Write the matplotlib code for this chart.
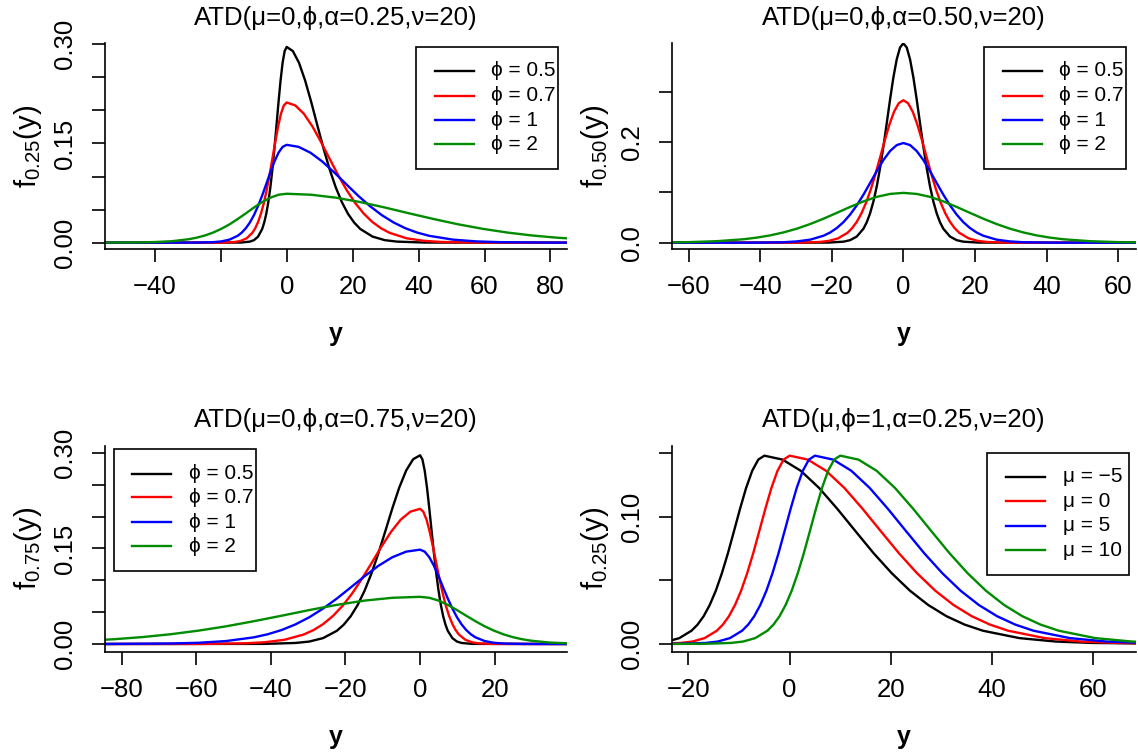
import matplotlib
matplotlib.use('Agg')
import matplotlib.pyplot as plt
from matplotlib.lines import Line2D
from matplotlib.patches import Rectangle

plt.rcParams['font.family'] = ['Liberation Sans', 'DejaVu Sans']
plt.rcParams['axes.unicode_minus'] = True

# ---------------- values ----------------
# panel 1: ATD(mu=0, phi, alpha=0.25, nu=20)
p1_x_05 = [-55, -13.95, -11.16, -9.92, -8.68, -7.44, -6.82, -6.2, -5.58, -4.96, -4.34, -3.72, -3.1, -2.48, -1.86, -1.24, -0.62, 0,
           1.86, 3.72, 5.58, 7.44, 9.3, 11.16, 13.02, 14.88, 16.74, 18.6, 20.46, 22.32, 26.04, 29.76, 33.48, 41.85, 85]
p1_y_05 = [0, 0.0002, 0.0016, 0.0038, 0.0092, 0.0207, 0.0304, 0.0436, 0.0612, 0.0836, 0.1109, 0.1426, 0.1773, 0.2127, 0.2454, 0.2722, 0.2898, 0.296,
           0.2898, 0.2722, 0.2454, 0.2127, 0.1773, 0.1426, 0.1109, 0.0836, 0.0612, 0.0436, 0.0304, 0.0207, 0.0092, 0.0038, 0.0016, 0.0002, 0]
p1_x_07 = [-55, -19.53, -15.62, -13.89, -12.15, -10.42, -9.55, -8.68, -7.81, -6.94, -6.08, -5.21, -4.34, -3.47, -2.6, -1.74, -0.87, 0,
           2.6, 5.2, 7.8, 10.4, 13.0, 15.6, 18.2, 20.8, 23.4, 26.0, 28.6, 31.2, 36.4, 41.6, 46.8, 58.5, 85]
p1_y_07 = [0, 0.0001, 0.0011, 0.0028, 0.0066, 0.0149, 0.0218, 0.0312, 0.0438, 0.0598, 0.0794, 0.1022, 0.1270, 0.1523, 0.1758, 0.1950, 0.2076, 0.212,
           0.2076, 0.1950, 0.1758, 0.1523, 0.1270, 0.1022, 0.0794, 0.0598, 0.0438, 0.0312, 0.0218, 0.0149, 0.0066, 0.0028, 0.0011, 0.0001, 0]
p1_x_1 = [-55, -27.9, -22.32, -19.84, -17.36, -14.88, -13.64, -12.4, -11.16, -9.92, -8.68, -7.44, -6.2, -4.96, -3.72, -2.48, -1.24, 0,
          3.6, 7.2, 10.8, 14.4, 18.0, 21.6, 25.2, 28.8, 32.4, 36.0, 39.6, 43.2, 50.4, 57.6, 64.8, 81.0, 85]
p1_y_1 = [0, 0.0001, 0.0008, 0.0019, 0.0046, 0.0104, 0.0152, 0.0218, 0.0306, 0.0418, 0.0555, 0.0713, 0.0887, 0.1063, 0.1227, 0.1361, 0.1449, 0.148,
          0.1449, 0.1361, 0.1227, 0.1063, 0.0887, 0.0713, 0.0555, 0.0418, 0.0306, 0.0218, 0.0152, 0.0104, 0.0046, 0.0019, 0.0008, 0.0001, 0.0001]
p1_x_2 = [-55.8, -44.64, -39.68, -34.72, -29.76, -27.28, -24.8, -22.32, -19.84, -17.36, -14.88, -12.4, -9.92, -7.44, -4.96, -2.48, 0,
          7.44, 14.88, 22.32, 29.76, 37.2, 44.64, 52.08, 59.52, 66.96, 74.4, 81.84, 89.28]
p1_y_2 = [0.0001, 0.0004, 0.0010, 0.0023, 0.0052, 0.0076, 0.0109, 0.0153, 0.0209, 0.0277, 0.0357, 0.0443, 0.0532, 0.0614, 0.0681, 0.0725, 0.074,
          0.0725, 0.0681, 0.0614, 0.0532, 0.0443, 0.0357, 0.0277, 0.0209, 0.0153, 0.0109, 0.0076, 0.0052]

# panel 2: ATD(mu=0, phi, alpha=0.50, nu=20)
p2_x_05 = [-65, -20.93, -16.74, -14.88, -13.02, -11.16, -10.23, -9.3, -8.37, -7.44, -6.51, -5.58, -4.65, -3.72, -2.79, -1.86, -0.93, 0,
           0.93, 1.86, 2.79, 3.72, 4.65, 5.58, 6.51, 7.44, 8.37, 9.3, 10.23, 11.16, 13.02, 14.88, 16.74, 20.93, 65]
p2_y_05 = [0, 0.0003, 0.0021, 0.0051, 0.0123, 0.0278, 0.0407, 0.0584, 0.0819, 0.1118, 0.1484, 0.1908, 0.2372, 0.2845, 0.3284, 0.3642, 0.3878, 0.396,
           0.3878, 0.3642, 0.3284, 0.2845, 0.2372, 0.1908, 0.1484, 0.1118, 0.0819, 0.0584, 0.0407, 0.0278, 0.0123, 0.0051, 0.0021, 0.0003, 0]
p2_x_07 = [-65, -29.25, -23.4, -20.8, -18.2, -15.6, -14.3, -13.0, -11.7, -10.4, -9.1, -7.8, -6.5, -5.2, -3.9, -2.6, -1.3, 0,
           1.3, 2.6, 3.9, 5.2, 6.5, 7.8, 9.1, 10.4, 11.7, 13.0, 14.3, 15.6, 18.2, 20.8, 23.4, 29.25, 65]
p2_y_07 = [0, 0.0002, 0.0015, 0.0037, 0.0088, 0.0198, 0.0291, 0.0417, 0.0585, 0.0799, 0.1060, 0.1364, 0.1695, 0.2033, 0.2347, 0.2603, 0.2771, 0.283,
           0.2771, 0.2603, 0.2347, 0.2033, 0.1695, 0.1364, 0.1060, 0.0799, 0.0585, 0.0417, 0.0291, 0.0198, 0.0088, 0.0037, 0.0015, 0.0002, 0]
p2_x_1 = [-65, -41.85, -33.48, -29.76, -26.04, -22.32, -20.46, -18.6, -16.74, -14.88, -13.02, -11.16, -9.3, -7.44, -5.58, -3.72, -1.86, 0,
          1.86, 3.72, 5.58, 7.44, 9.3, 11.16, 13.02, 14.88, 16.74, 18.6, 20.46, 22.32, 26.04, 29.76, 33.48, 41.85, 65]
p2_y_1 = [0, 0.0001, 0.0010, 0.0026, 0.0061, 0.0139, 0.0203, 0.0292, 0.0409, 0.0559, 0.0742, 0.0954, 0.1186, 0.1422, 0.1642, 0.1821, 0.1939, 0.198,
          0.1939, 0.1821, 0.1642, 0.1422, 0.1186, 0.0954, 0.0742, 0.0559, 0.0409, 0.0292, 0.0203, 0.0139, 0.0061, 0.0026, 0.0010, 0.0001, 0]
p2_x_2 = [-65, -59.52, -52.08, -44.64, -40.92, -37.2, -33.48, -29.76, -26.04, -22.32, -18.6, -14.88, -11.16, -7.44, -3.72, 0,
          3.72, 7.44, 11.16, 14.88, 18.6, 22.32, 26.04, 29.76, 33.48, 37.2, 40.92, 44.64, 52.08, 59.52, 65]
p2_y_2 = [0.0007, 0.0013, 0.0031, 0.0069, 0.0102, 0.0146, 0.0205, 0.0279, 0.0371, 0.0477, 0.0593, 0.0711, 0.0821, 0.0911, 0.0969, 0.099,
          0.0969, 0.0911, 0.0821, 0.0711, 0.0593, 0.0477, 0.0371, 0.0279, 0.0205, 0.0146, 0.0102, 0.0069, 0.0031, 0.0013, 0.0007]

# panel 3: ATD(mu=0, phi, alpha=0.75, nu=20)
p3_x_05 = [-85, -41.85, -33.48, -29.76, -26.04, -22.32, -20.46, -18.6, -16.74, -14.88, -13.02, -11.16, -9.3, -7.44, -5.58, -3.72, -1.86, 0,
           0.62, 1.24, 1.86, 2.48, 3.1, 3.72, 4.34, 4.96, 5.58, 6.2, 6.82, 7.44, 8.68, 9.92, 11.16, 13.95, 40]
p3_y_05 = [0, 0.0002, 0.0016, 0.0038, 0.0092, 0.0207, 0.0304, 0.0436, 0.0612, 0.0836, 0.1109, 0.1426, 0.1773, 0.2127, 0.2454, 0.2722, 0.2898, 0.296,
           0.2898, 0.2722, 0.2454, 0.2127, 0.1773, 0.1426, 0.1109, 0.0836, 0.0612, 0.0436, 0.0304, 0.0207, 0.0092, 0.0038, 0.0016, 0.0002, 0]
p3_x_07 = [-85, -58.5, -46.8, -41.6, -36.4, -31.2, -28.6, -26.0, -23.4, -20.8, -18.2, -15.6, -13.0, -10.4, -7.8, -5.2, -2.6, 0,
           0.87, 1.74, 2.6, 3.47, 4.34, 5.21, 6.08, 6.94, 7.81, 8.68, 9.55, 10.42, 12.15, 13.89, 15.62, 19.53, 40]
p3_y_07 = [0, 0.0001, 0.0011, 0.0028, 0.0066, 0.0149, 0.0218, 0.0312, 0.0438, 0.0598, 0.0794, 0.1022, 0.1270, 0.1523, 0.1758, 0.1950, 0.2076, 0.212,
           0.2076, 0.1950, 0.1758, 0.1523, 0.1270, 0.1022, 0.0794, 0.0598, 0.0438, 0.0312, 0.0218, 0.0149, 0.0066, 0.0028, 0.0011, 0.0001, 0]
p3_x_1 = [-85, -83.7, -66.96, -59.52, -52.08, -44.64, -40.92, -37.2, -33.48, -29.76, -26.04, -22.32, -18.6, -14.88, -11.16, -7.44, -3.72, 0,
          1.24, 2.48, 3.72, 4.96, 6.2, 7.44, 8.68, 9.92, 11.16, 12.4, 13.64, 14.88, 17.36, 19.84, 22.32, 27.9, 40]
p3_y_1 = [0.0001, 0.0001, 0.0008, 0.0019, 0.0046, 0.0104, 0.0152, 0.0218, 0.0306, 0.0418, 0.0555, 0.0713, 0.0887, 0.1063, 0.1227, 0.1361, 0.1449, 0.148,
          0.1449, 0.1361, 0.1227, 0.1063, 0.0887, 0.0713, 0.0555, 0.0418, 0.0306, 0.0218, 0.0152, 0.0104, 0.0046, 0.0019, 0.0008, 0.0001, 0]
p3_x_2 = [-89.28, -81.84, -74.4, -66.96, -59.52, -52.08, -44.64, -37.2, -29.76, -22.32, -14.88, -7.44, 0,
          2.48, 4.96, 7.44, 9.92, 12.4, 14.88, 17.36, 19.84, 22.32, 24.8, 27.28, 29.76, 34.72, 39.68]
p3_y_2 = [0.0052, 0.0076, 0.0109, 0.0153, 0.0209, 0.0277, 0.0357, 0.0443, 0.0532, 0.0614, 0.0681, 0.0725, 0.074,
          0.0725, 0.0681, 0.0614, 0.0532, 0.0443, 0.0357, 0.0277, 0.0209, 0.0153, 0.0109, 0.0076, 0.0052, 0.0023, 0.0010]

# panel 4: ATD(mu, phi=1, alpha=0.25, nu=20), one profile, shifted by mu
p4_x_m5 = [-41.0, -32.0, -26.6, -24.2, -21.8, -19.4, -18.2, -17.0, -15.8, -14.6, -13.4, -12.2, -11.0, -9.8, -8.6, -7.4, -6.2, -5,
           -1.4, 2.2, 5.8, 9.4, 13.0, 16.6, 20.2, 23.8, 27.4, 31.0, 34.6, 38.2, 45.4, 52.6, 59.8, 76.0]
p4_x_0 = [-36.0, -27.0, -21.6, -19.2, -16.8, -14.4, -13.2, -12.0, -10.8, -9.6, -8.4, -7.2, -6.0, -4.8, -3.6, -2.4, -1.2, 0,
          3.6, 7.2, 10.8, 14.4, 18.0, 21.6, 25.2, 28.8, 32.4, 36.0, 39.6, 43.2, 50.4, 57.6, 64.8, 81.0]
p4_x_5 = [-31.0, -22.0, -16.6, -14.2, -11.8, -9.4, -8.2, -7.0, -5.8, -4.6, -3.4, -2.2, -1.0, 0.2, 1.4, 2.6, 3.8, 5,
          8.6, 12.2, 15.8, 19.4, 23.0, 26.6, 30.2, 33.8, 37.4, 41.0, 44.6, 48.2, 55.4, 62.6, 69.8, 86.0]
p4_x_10 = [-26.0, -17.0, -11.6, -9.2, -6.8, -4.4, -3.2, -2.0, -0.8, 0.4, 1.6, 2.8, 4.0, 5.2, 6.4, 7.6, 8.8, 10,
           13.6, 17.2, 20.8, 24.4, 28.0, 31.6, 35.2, 38.8, 42.4, 46.0, 49.6, 53.2, 60.4, 67.6, 74.8, 91.0]
p4_y = [0, 0.0001, 0.0008, 0.0019, 0.0046, 0.0104, 0.0152, 0.0218, 0.0306, 0.0418, 0.0555, 0.0713, 0.0887, 0.1063, 0.1227, 0.1361, 0.1449, 0.148,
        0.1449, 0.1361, 0.1227, 0.1063, 0.0887, 0.0713, 0.0555, 0.0418, 0.0306, 0.0218, 0.0152, 0.0104, 0.0046, 0.0019, 0.0008, 0.0001]

phi_labels = ['ϕ = 0.5', 'ϕ = 0.7', 'ϕ = 1', 'ϕ = 2']
mu_labels = ['μ = −5', 'μ = 0', 'μ = 5', 'μ = 10']
colors = ['black', 'red', 'blue', '#008B00']

LW = 1.7
W, H = 1138, 756


def fx(px):
    return px / W


def fy(py):
    return 1 - py / H


def style_axes(ax, title, ylabel, xlim, ylim, xticks, xticklabels, yticks, yticklabels):
    ax.set_xlim(*xlim)
    ax.set_ylim(*ylim)
    for side in ['top', 'right']:
        ax.spines[side].set_visible(False)
    for side in ['left', 'bottom']:
        ax.spines[side].set_linewidth(1.2)
    ax.set_xticks(xticks)
    ax.set_xticklabels(xticklabels)
    ax.set_yticks(yticks)
    ax.set_yticklabels(yticklabels, rotation=90, va='center')
    ax.tick_params(axis='both', direction='out', length=9.7, width=1.2, labelsize=18.5)
    ax.tick_params(axis='x', pad=9)
    ax.tick_params(axis='y', pad=10.5)
    ax.set_title(title, fontsize=18.5, pad=13.2)
    ax.set_xlabel('y', fontsize=18, fontweight='bold')
    ax.xaxis.set_label_coords(0.5, -0.445)
    ax.xaxis.label.set_va('baseline')
    ax.set_ylabel(ylabel, fontsize=21)
    ax.yaxis.set_label_coords(-0.148, 0.5)
    ax.yaxis.label.set_va('baseline')


def draw_legend(labels, box, line_x, text_x, rows):
    """R style legend: box, short line samples, left aligned labels (figure pixels)"""
    x0, y0, x1, y1 = box
    fig.add_artist(Rectangle((fx(x0), fy(y1)), fx(x1) - fx(x0), fy(y0) - fy(y1),
                             transform=fig.transFigure, facecolor='white',
                             edgecolor='black', lw=1.2))
    for lab, c, r in zip(labels, colors, rows):
        fig.add_artist(Line2D([fx(line_x[0]), fx(line_x[1])], [fy(r), fy(r)],
                              transform=fig.transFigure, color=c, lw=LW))
        fig.text(fx(text_x), fy(r), lab, fontsize=15, ha='left', va='center')


fig = plt.figure(figsize=(11.38, 7.56), dpi=100)

ax1 = fig.add_axes([0.0920, 0.6706, 0.4065, 0.2721])
ax2 = fig.add_axes([0.5903, 0.6706, 0.4077, 0.2721])
ax3 = fig.add_axes([0.0920, 0.1376, 0.4065, 0.2728])
ax4 = fig.add_axes([0.5903, 0.1376, 0.4077, 0.2728])

# panel 1
for x, y, c in zip([p1_x_05, p1_x_07, p1_x_1, p1_x_2], [p1_y_05, p1_y_07, p1_y_1, p1_y_2], colors):
    ax1.plot(x, y, color=c, lw=LW)
style_axes(ax1, 'ATD(μ=0,ϕ,α=0.25,ν=20)', r'$\mathregular{f_{0.25}(y)}$',
           (-55.2, 85.1), (-0.0096, 0.3015),
           [-40, -20, 0, 20, 40, 60, 80], ['−40', '', '0', '20', '40', '60', '80'],
           [0, 0.05, 0.10, 0.15, 0.20, 0.25, 0.30], ['0.00', '', '', '0.15', '', '', '0.30'])
draw_legend(phi_labels, (416.4, 46.7, 558.2, 169.3), (434.5, 473.8), 490.9, [71, 95.7, 120, 144.3])

# panel 2
for x, y, c in zip([p2_x_05, p2_x_07, p2_x_1, p2_x_2], [p2_y_05, p2_y_07, p2_y_1, p2_y_2], colors):
    ax2.plot(x, y, color=c, lw=LW)
style_axes(ax2, 'ATD(μ=0,ϕ,α=0.50,ν=20)', r'$\mathregular{f_{0.50}(y)}$',
           (-64.7, 64.9), (-0.0125, 0.396),
           [-60, -40, -20, 0, 20, 40, 60], ['−60', '−40', '−20', '0', '20', '40', '60'],
           [0, 0.1, 0.2, 0.3], ['0.0', '', '0.2', ''])
draw_legend(phi_labels, (983.8, 47.3, 1126.4, 169.3), (1002.7, 1042), 1059, [71, 95.7, 120, 144.3])

# panel 3
for x, y, c in zip([p3_x_05, p3_x_07, p3_x_1, p3_x_2], [p3_y_05, p3_y_07, p3_y_1, p3_y_2], colors):
    ax3.plot(x, y, color=c, lw=LW)
style_axes(ax3, 'ATD(μ=0,ϕ,α=0.75,ν=20)', r'$\mathregular{f_{0.75}(y)}$',
           (-84.6, 39.5), (-0.0125, 0.311),
           [-80, -60, -40, -20, 0, 20], ['−80', '−60', '−40', '−20', '0', '20'],
           [0, 0.05, 0.10, 0.15, 0.20, 0.25, 0.30], ['0.00', '', '', '0.15', '', '', '0.30'])
draw_legend(phi_labels, (113.8, 449, 255.6, 571.3), (131.6, 170.9), 189.1, [473.7, 497.3, 522.3, 546.3])

# panel 4
for x, c in zip([p4_x_m5, p4_x_0, p4_x_5, p4_x_10], colors):
    ax4.plot(x, p4_y, color=c, lw=LW)
style_axes(ax4, 'ATD(μ,ϕ=1,α=0.25,ν=20)', r'$\mathregular{f_{0.25}(y)}$',
           (-23.3, 68.4), (-0.0063, 0.1558),
           [-20, 0, 20, 40, 60], ['−20', '0', '20', '40', '60'],
           [0, 0.05, 0.10, 0.15], ['0.00', '', '0.10', ''])
draw_legend(mu_labels, (987.1, 452.7, 1129.3, 575.3), (1005.6, 1044.5), 1062.7, [477, 501.3, 525.7, 550])

fig.savefig('out.png', dpi=100)
plt.close(fig)
